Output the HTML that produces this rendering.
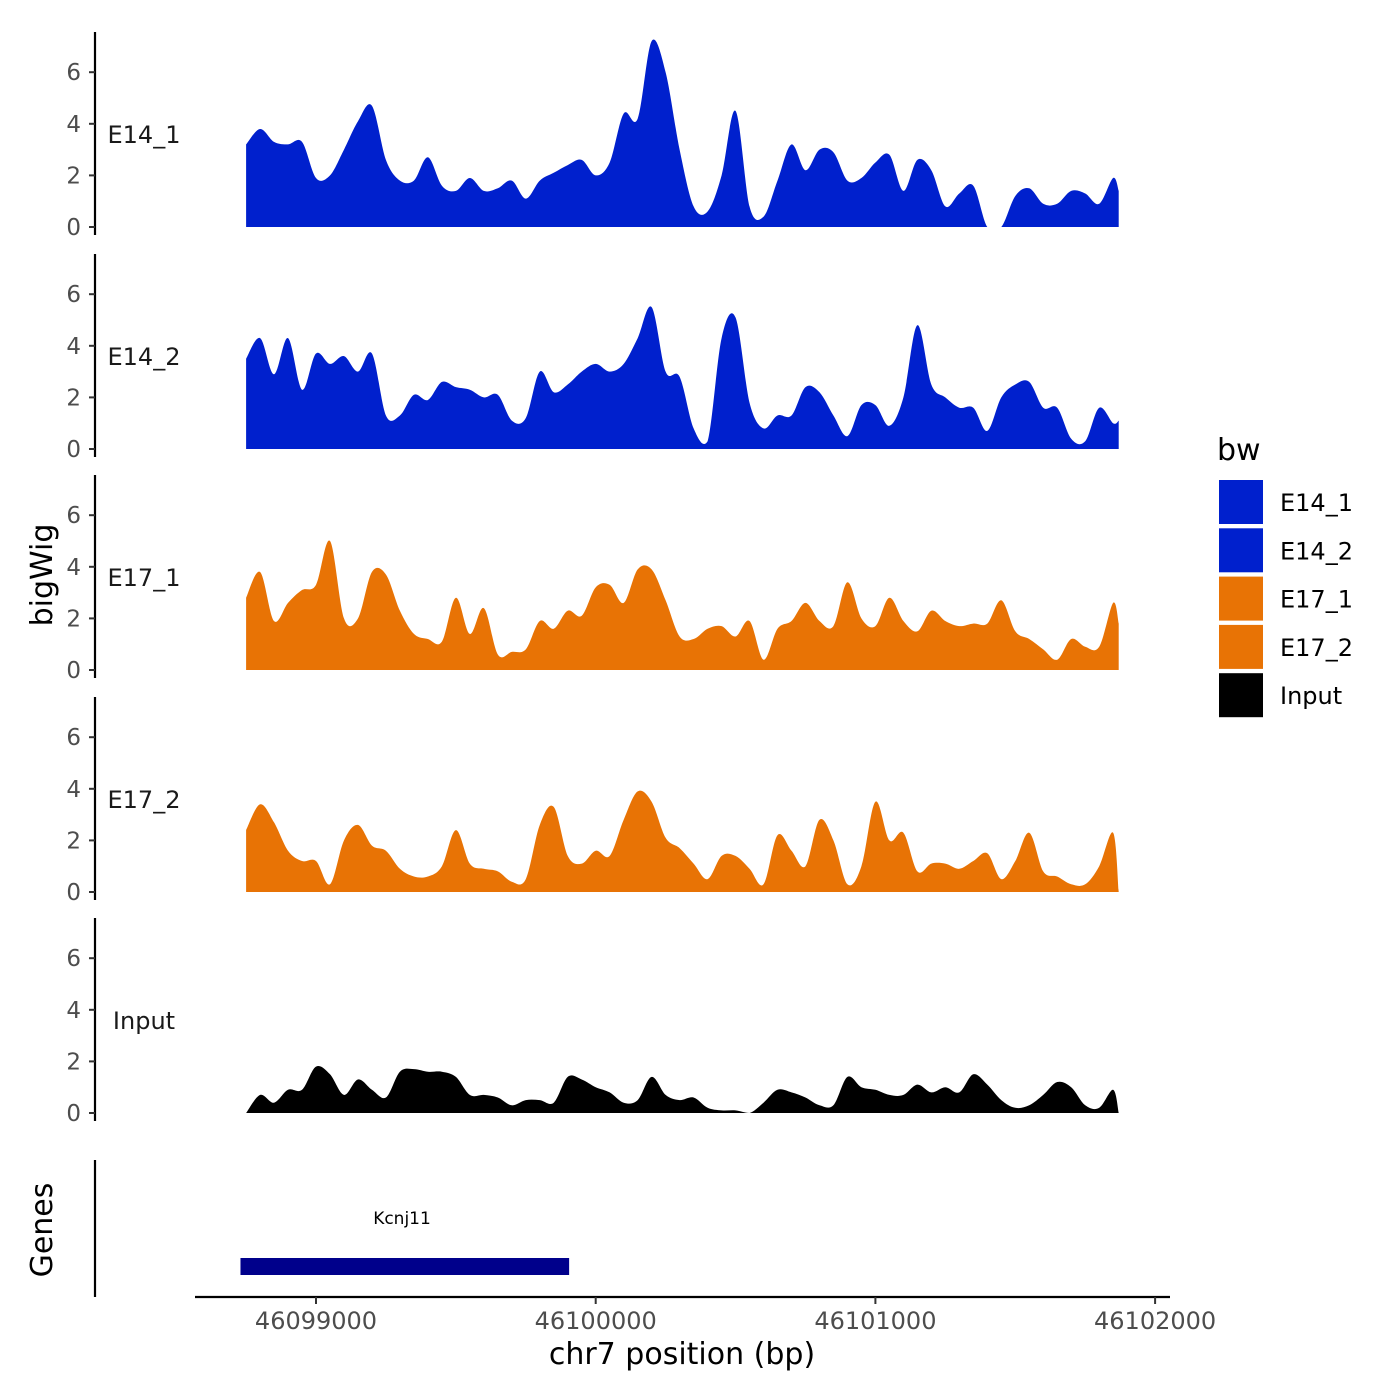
<!DOCTYPE html>
<html><head><meta charset="utf-8">
<style>
html,body{margin:0;padding:0;background:#fff;}
svg{display:block;font-family:"DejaVu Sans","Liberation Sans",sans-serif;}
</style></head>
<body>
<svg id="chart" width="1400" height="1400" viewBox="0 0 1400 1400" xmlns="http://www.w3.org/2000/svg">
  <rect width="1400" height="1400" fill="#fff"/>
  <g id="panels"></g>
  <line x1="95" y1="1160" x2="95" y2="1297" stroke="#000" stroke-width="2.2"/>
  <text transform="translate(52,1230) rotate(-90)" text-anchor="middle" font-size="30" fill="#000">Genes</text>
  <g id="genes"></g>
  <line x1="195" y1="1297" x2="1170" y2="1297" stroke="#000" stroke-width="2.2"/>
  <g id="xticks"></g>
  <text x="682" y="1364" text-anchor="middle" font-size="30" fill="#000">chr7 position (bp)</text>
  <text transform="translate(52,575) rotate(-90)" text-anchor="middle" font-size="30" fill="#000">bigWig</text>
  <g id="legend">
    <text x="1217" y="460" font-size="30" fill="#000">bw</text>
  </g>
</svg>
<script>
const positions = [46098750,46098800,46098850,46098900,46098950,46099000,46099050,46099100,46099150,46099200,46099250,46099300,46099350,46099400,46099450,46099500,46099550,46099600,46099650,46099700,46099750,46099800,46099850,46099900,46099950,46100000,46100050,46100100,46100150,46100200,46100250,46100300,46100350,46100400,46100450,46100500,46100550,46100600,46100650,46100700,46100750,46100800,46100850,46100900,46100950,46101000,46101050,46101100,46101150,46101200,46101250,46101300,46101350,46101400,46101450,46101500,46101550,46101600,46101650,46101700,46101750,46101800,46101850,46101870];
const e14_1 = [3.2,3.8,3.3,3.2,3.3,1.9,2.0,3.0,4.1,4.7,2.6,1.8,1.8,2.7,1.6,1.4,1.9,1.4,1.5,1.8,1.1,1.8,2.1,2.4,2.6,2.0,2.5,4.4,4.2,7.2,6.0,3.0,0.8,0.6,2.0,4.5,0.8,0.4,1.8,3.2,2.2,3.0,2.9,1.8,1.9,2.5,2.8,1.4,2.6,2.2,0.8,1.3,1.6,0,0,1.2,1.5,0.9,0.9,1.4,1.3,0.9,1.9,1.4];
const e14_2 = [3.5,4.3,2.9,4.3,2.3,3.7,3.3,3.6,3.0,3.7,1.3,1.3,2.1,1.9,2.6,2.4,2.3,2.0,2.1,1.1,1.2,3.0,2.2,2.5,3.0,3.3,3.0,3.3,4.3,5.5,3.0,2.8,0.8,0.3,4.3,5.1,1.8,0.8,1.3,1.3,2.4,2.2,1.3,0.5,1.7,1.7,0.9,2.0,4.8,2.5,2.0,1.6,1.6,0.7,2.0,2.5,2.6,1.6,1.6,0.4,0.3,1.6,1.0,1.1];
const e17_1 = [2.8,3.8,1.9,2.6,3.1,3.3,5.0,2.0,2.0,3.8,3.7,2.3,1.4,1.2,1.1,2.8,1.4,2.4,0.6,0.7,0.8,1.9,1.6,2.3,2.1,3.2,3.3,2.6,3.9,3.9,2.7,1.3,1.2,1.6,1.7,1.3,1.9,0.4,1.6,1.9,2.6,1.9,1.7,3.4,2.0,1.7,2.8,1.9,1.5,2.3,1.9,1.7,1.8,1.8,2.7,1.5,1.2,0.8,0.4,1.2,0.9,0.9,2.6,1.8];
const e17_2 = [2.4,3.4,2.7,1.6,1.2,1.2,0.3,2.0,2.6,1.8,1.6,0.9,0.6,0.6,1.0,2.4,1.1,0.9,0.8,0.4,0.5,2.6,3.3,1.4,1.1,1.6,1.4,2.8,3.9,3.5,2.1,1.7,1.1,0.5,1.4,1.4,0.9,0.3,2.2,1.6,1.0,2.8,2.0,0.3,1.0,3.5,2.0,2.3,0.8,1.1,1.1,0.9,1.2,1.5,0.5,1.2,2.3,0.8,0.6,0.3,0.3,1.0,2.3,0];
const input = [0,0.7,0.4,0.9,0.9,1.8,1.5,0.7,1.3,0.9,0.6,1.6,1.7,1.6,1.6,1.4,0.7,0.7,0.6,0.3,0.5,0.5,0.4,1.4,1.3,1.0,0.8,0.4,0.5,1.4,0.7,0.5,0.6,0.2,0.1,0.1,0,0.4,0.9,0.8,0.6,0.3,0.3,1.4,1.0,0.9,0.7,0.7,1.1,0.8,1.0,0.8,1.5,1.1,0.5,0.2,0.3,0.7,1.2,1.0,0.3,0.2,0.9,0];
const trackNames = ["E14_1","E14_2","E17_1","E17_2","Input"];
const trackColors = ["#0020CD","#0020CD","#E87305","#E87305","#000000"];
const trackValues = [e14_1,e14_2,e17_1,e17_2,input];
const yTicks = [0,2,4,6];
const xTicks = [46099000,46100000,46101000,46102000];
const gene = {name:"Kcnj11", start:46098730, end:46099905};

const NS = "http://www.w3.org/2000/svg";
function mk(tag, attrs, parent){const e=document.createElementNS(NS,tag);for(const k in attrs)e.setAttribute(k,attrs[k]);parent.appendChild(e);return e;}
function xScale(bp){return 316 + (bp-46099000)*0.2797;}
const panelBase = [227,449,670,892,1113];
function yScale(v,i){return panelBase[i] - v*25.8;}

const panels = document.getElementById('panels');
trackNames.forEach((name,i)=>{
  const g = mk('g',{},panels);
  
  
  const ax = mk('line',{x1:95,y1:panelBase[i]-195,x2:95,y2:panelBase[i]+8,stroke:'#000','stroke-width':2.2},g);
  
  
  yTicks.forEach(t=>{
    const y = yScale(t,i);
    const tk = mk('line',{x1:89,y1:y,x2:95,y2:y,stroke:'#333','stroke-width':2},g);
    
    
    const tl = mk('text',{x:81,y:y+8,'text-anchor':'end','font-size':23,fill:'#4d4d4d'},g);
    tl.textContent = t;
    
    
  });
  const vals = trackValues[i];
  const pts = vals.map((v,k)=>[xScale(positions[k]), yScale(v,i)]);
  const base = panelBase[i];
  let d = 'M' + pts[0][0].toFixed(1) + ',' + base + ' L' + pts[0][0].toFixed(1) + ',' + pts[0][1].toFixed(1);
  for(let k=0;k<pts.length-1;k++){
    const p0 = pts[Math.max(0,k-1)], p1 = pts[k], p2 = pts[k+1], p3 = pts[Math.min(pts.length-1,k+2)];
    const c1x = p1[0] + (p2[0]-p0[0])/6, c1y = Math.min(base, p1[1] + (p2[1]-p0[1])/6);
    const c2x = p2[0] - (p3[0]-p1[0])/6, c2y = Math.min(base, p2[1] - (p3[1]-p1[1])/6);
    d += ' C' + c1x.toFixed(1) + ',' + c1y.toFixed(1) + ' ' + c2x.toFixed(1) + ',' + c2y.toFixed(1) + ' ' + p2[0].toFixed(1) + ',' + p2[1].toFixed(1);
  }
  d += ' L' + pts[pts.length-1][0].toFixed(1) + ',' + base + ' Z';
  const area = mk('path',{d:d,fill:trackColors[i]},g);
  
  
  const lbl = mk('text',{x:144,y:yScale(0,i)-84,'text-anchor':'middle','font-size':24,fill:'#1a1a1a'},g);
  lbl.textContent = name;
  
  
});

const xg = document.getElementById('xticks');
xTicks.forEach(t=>{
  const x = xScale(t);
  const tk = mk('line',{x1:x,y1:1297,x2:x,y2:1304,stroke:'#333','stroke-width':2},xg);
  
  
  const tl = mk('text',{x:x,y:1329,'text-anchor':'middle','font-size':24,fill:'#4d4d4d'},xg);
  tl.textContent = t;
  
  
});

const gg = document.getElementById('genes');
const gx1 = xScale(gene.start), gx2 = xScale(gene.end);
const gr = mk('rect',{x:gx1,y:1258,width:gx2-gx1,height:17,fill:'#00008B'},gg);


const gt = mk('text',{x:402,y:1224,'text-anchor':'middle','font-size':17,fill:'#000'},gg);
gt.textContent = gene.name;



const lg = document.getElementById('legend');
const legendColors = ["#0020CD","#0020CD","#E87305","#E87305","#000000"];
trackNames.forEach((name,i)=>{
  const y = 480 + i*48.3;
  const r = mk('rect',{x:1219,y:y,width:44,height:44,fill:legendColors[i]},lg);
  
  
  const t = mk('text',{x:1280,y:y+31,'font-size':24,fill:'#000'},lg);
  t.textContent = name;
  
  
});
</script>
</body></html>
